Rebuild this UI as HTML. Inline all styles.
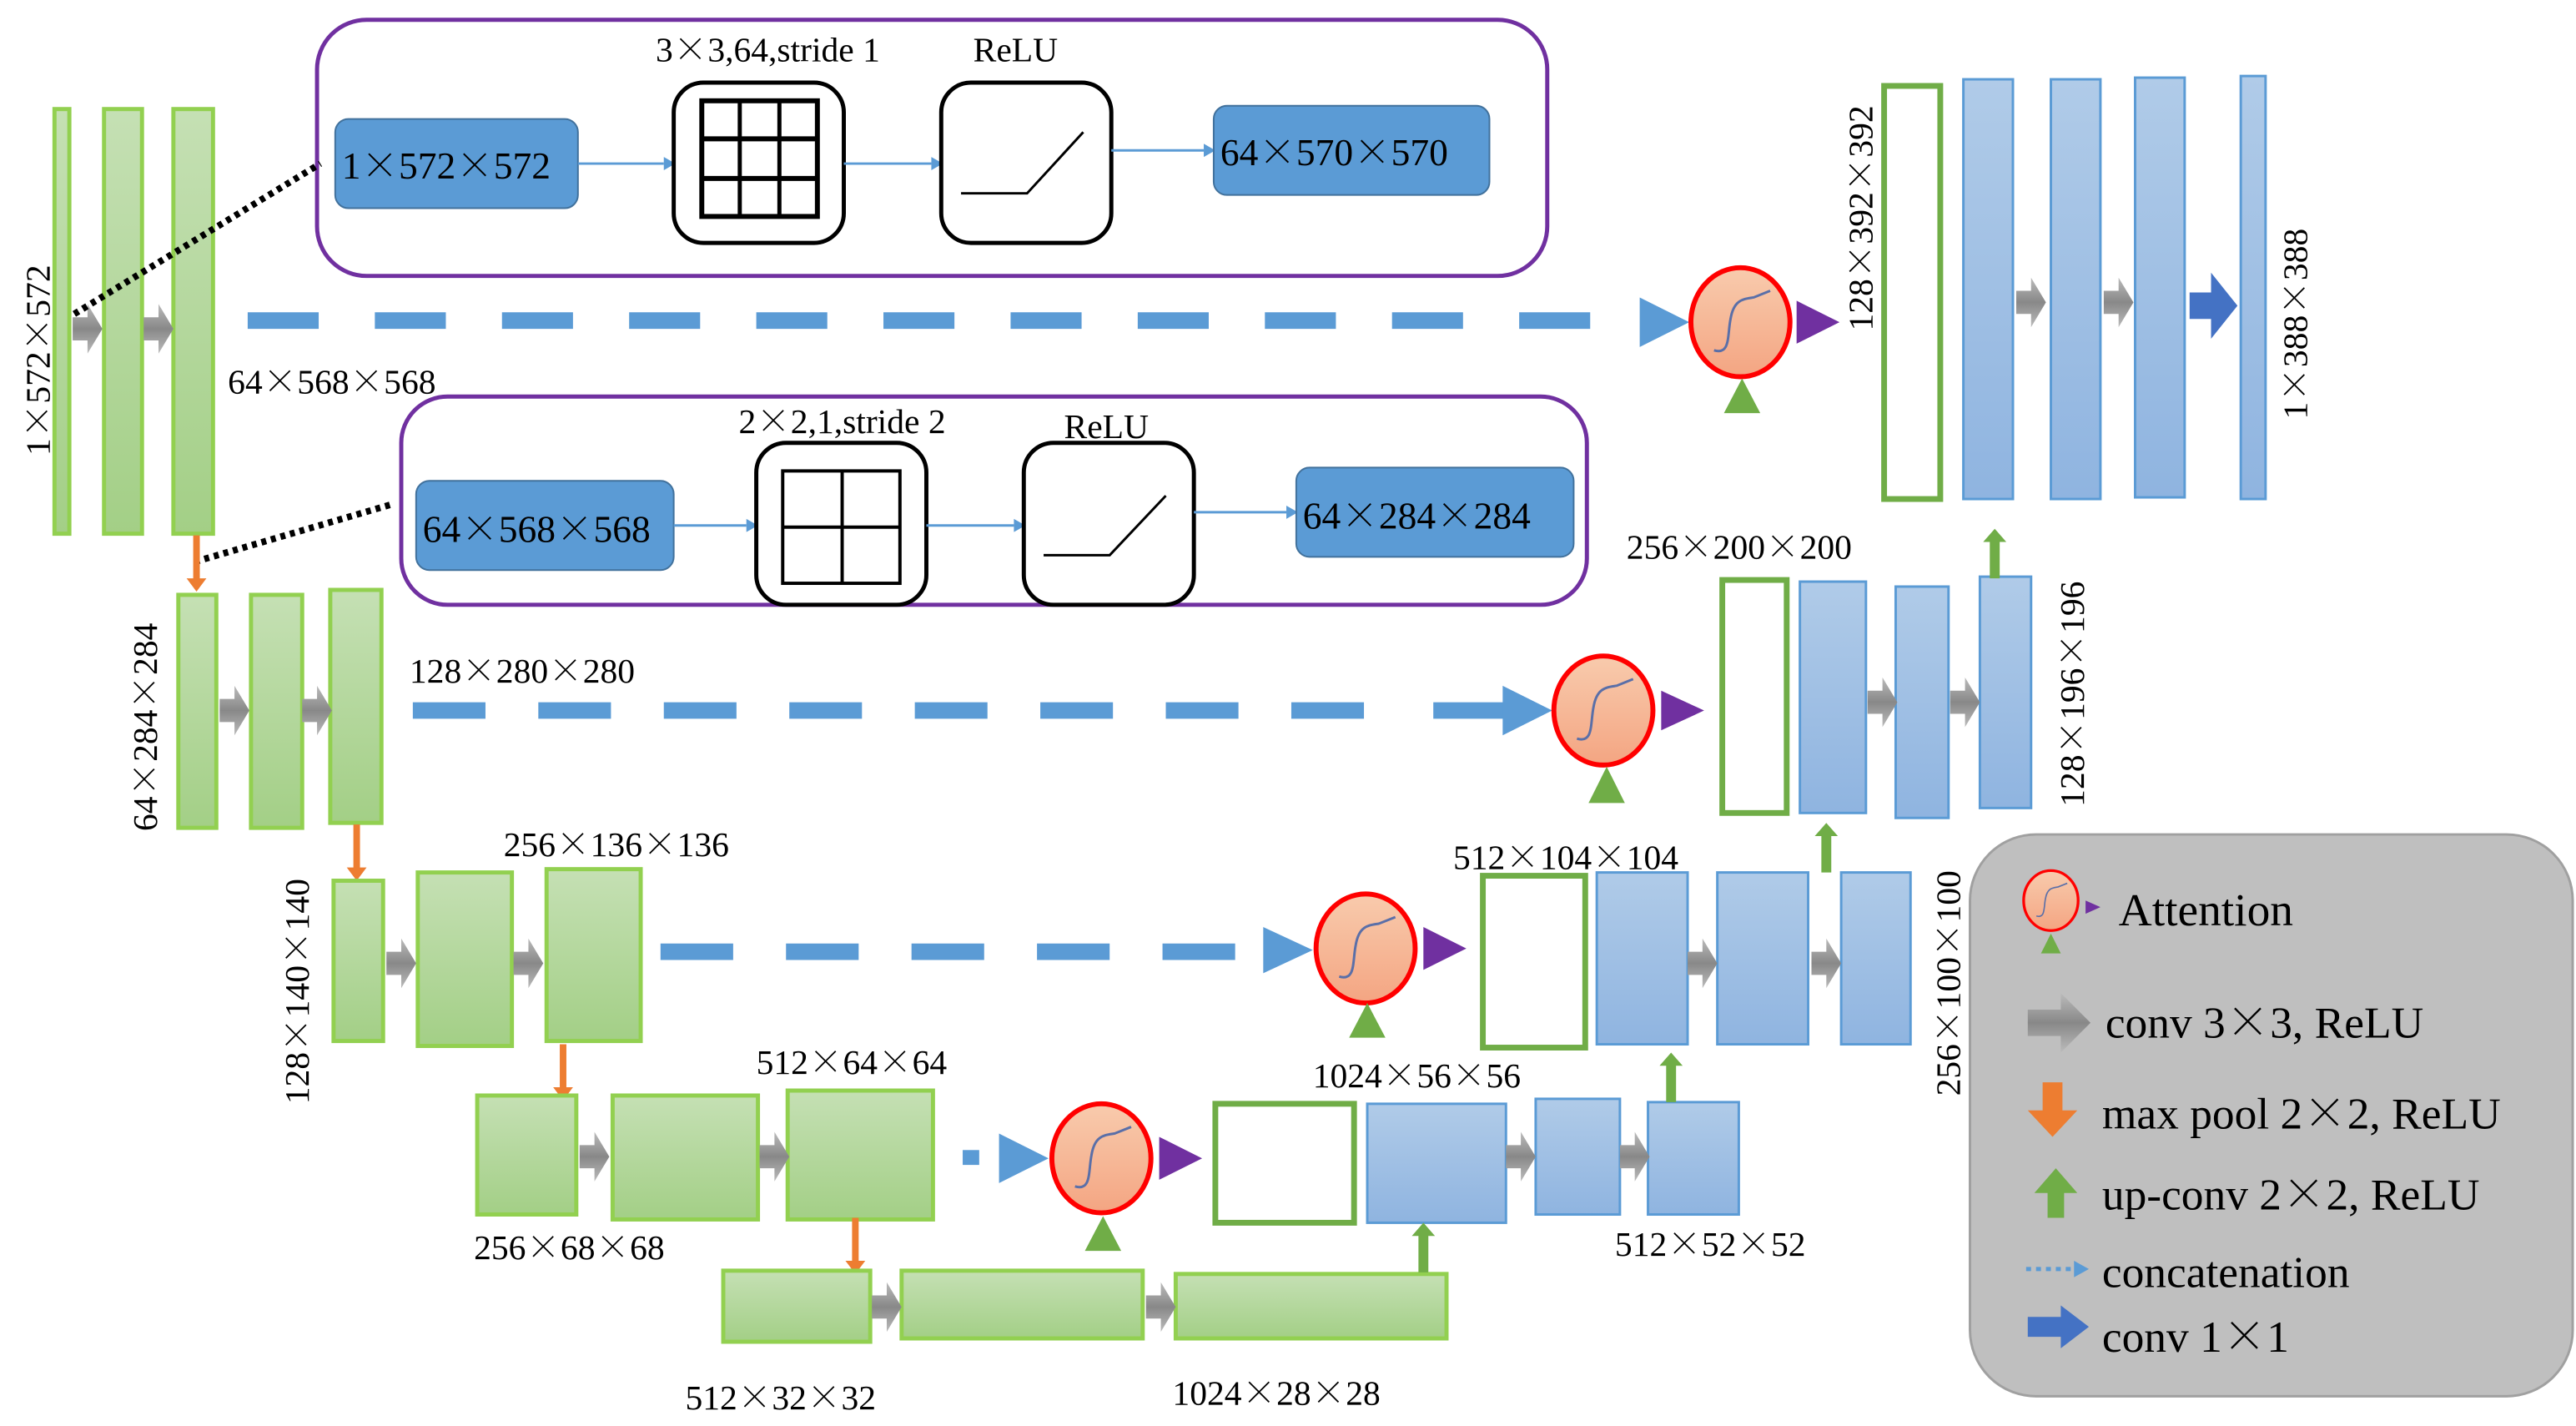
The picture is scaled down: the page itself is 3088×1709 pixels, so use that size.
<!DOCTYPE html>
<html><head><meta charset="utf-8"><style>
html,body{margin:0;padding:0;background:#fff;}
svg{display:block;}
text{font-family:"Liberation Serif",serif;fill:#000;}
.x{font-family:"Noto Serif CJK SC","Noto Sans CJK SC",serif;}
</style></head><body>
<svg width="3088" height="1709" viewBox="0 0 1560 863" preserveAspectRatio="none" xmlns="http://www.w3.org/2000/svg">
<defs>
<linearGradient id="gg" x1="0" y1="0" x2="0" y2="1"><stop offset="0" stop-color="#c5e0b4"/><stop offset="1" stop-color="#a3cf86"/></linearGradient>
<linearGradient id="bg" x1="0" y1="0" x2="0" y2="1"><stop offset="0" stop-color="#b0cbe8"/><stop offset="1" stop-color="#8fb4e0"/></linearGradient>
<linearGradient id="gr" x1="0" y1="0" x2="0" y2="1"><stop offset="0" stop-color="#bbb"/><stop offset="0.5" stop-color="#888"/><stop offset="1" stop-color="#bbb"/></linearGradient>
<linearGradient id="og" x1="0" y1="0" x2="0" y2="1"><stop offset="0" stop-color="#f8cbad"/><stop offset="1" stop-color="#f4a582"/></linearGradient>
<g id="ga"><polygon points="0,-7 9,-7 9,-15 18,0 9,15 9,7 0,7" fill="url(#gr)"/></g>
<g id="att"><ellipse cx="0" cy="0" rx="30" ry="33" fill="url(#og)" stroke="#ff0000" stroke-width="3"/><path d="M-16,17 C-6,20 -8,8 -6,-2 C-4,-14 2,-14 8,-15 L18,-19" fill="none" stroke="#5a6fa8" stroke-width="1.5"/></g>
<g id="up"><polygon points="-3,0 3,0 3,-22 7,-22 0,-30 -7,-22 -3,-22" fill="#70ad47"/></g>
<g id="dn"><polygon points="-2,0 2,0 2,26 6,26 0,34 -6,26 -2,26" fill="#ed7d31"/></g>
</defs>

<!-- top purple box -->
<rect x="192" y="12" width="745" height="155" rx="30" fill="none" stroke="#7030a0" stroke-width="2.5"/>
<rect x="203" y="72" width="147" height="54" rx="8" fill="#5b9bd5" stroke="#41719c"/>
<text x="207" y="108" font-size="23">1<tspan class="x">×</tspan>572<tspan class="x">×</tspan>572</text>
<line x1="350" y1="99" x2="402" y2="99" stroke="#5b9bd5" stroke-width="1.5"/><polygon points="402,95 409,99 402,103" fill="#5b9bd5"/>
<rect x="408" y="50" width="103" height="97" rx="18" fill="#fff" stroke="#000" stroke-width="2.5"/>
<rect x="425" y="61" width="70" height="70" fill="none" stroke="#000" stroke-width="3"/>
<line x1="448" y1="61" x2="448" y2="131" stroke="#000" stroke-width="2.5"/><line x1="472" y1="61" x2="472" y2="131" stroke="#000" stroke-width="2.5"/>
<line x1="425" y1="84" x2="495" y2="84" stroke="#000" stroke-width="3"/><line x1="425" y1="108" x2="495" y2="108" stroke="#000" stroke-width="3"/>
<line x1="511" y1="99" x2="564" y2="99" stroke="#5b9bd5" stroke-width="1.5"/><polygon points="564,95 571,99 564,103" fill="#5b9bd5"/>
<rect x="570" y="50" width="103" height="97" rx="18" fill="#fff" stroke="#000" stroke-width="2.5"/>
<polyline points="582,117 622,117 656,80" fill="none" stroke="#000" stroke-width="1.5"/>
<line x1="673" y1="91" x2="729" y2="91" stroke="#5b9bd5" stroke-width="1.5"/><polygon points="729,87 736,91 729,95" fill="#5b9bd5"/>
<rect x="735" y="64" width="167" height="54" rx="8" fill="#5b9bd5" stroke="#41719c"/>
<text x="739" y="100" font-size="23">64<tspan class="x">×</tspan>570<tspan class="x">×</tspan>570</text>
<text x="465" y="37" font-size="21" text-anchor="middle">3<tspan class="x">×</tspan>3,64,stride 1</text>
<text x="615" y="37" font-size="21" text-anchor="middle">ReLU</text>

<!-- second purple box -->
<rect x="243" y="240" width="718" height="126" rx="28" fill="none" stroke="#7030a0" stroke-width="2.5"/>
<rect x="252" y="291" width="156" height="54" rx="8" fill="#5b9bd5" stroke="#41719c"/>
<text x="256" y="328" font-size="23">64<tspan class="x">×</tspan>568<tspan class="x">×</tspan>568</text>
<line x1="408" y1="318" x2="452" y2="318" stroke="#5b9bd5" stroke-width="1.5"/><polygon points="452,314 459,318 452,322" fill="#5b9bd5"/>
<rect x="458" y="268" width="103" height="98" rx="18" fill="#fff" stroke="#000" stroke-width="2.5"/>
<rect x="474" y="285" width="71" height="68" fill="none" stroke="#000" stroke-width="2"/>
<line x1="510" y1="285" x2="510" y2="353" stroke="#000" stroke-width="2"/><line x1="474" y1="319" x2="545" y2="319" stroke="#000" stroke-width="2"/>
<line x1="561" y1="318" x2="614" y2="318" stroke="#5b9bd5" stroke-width="1.5"/><polygon points="614,314 621,318 614,322" fill="#5b9bd5"/>
<rect x="620" y="268" width="103" height="98" rx="18" fill="#fff" stroke="#000" stroke-width="2.5"/>
<polyline points="632,336 672,336 706,300" fill="none" stroke="#000" stroke-width="1.5"/>
<line x1="723" y1="310" x2="779" y2="310" stroke="#5b9bd5" stroke-width="1.5"/><polygon points="779,306 786,310 779,314" fill="#5b9bd5"/>
<rect x="785" y="283" width="168" height="54" rx="8" fill="#5b9bd5" stroke="#41719c"/>
<text x="789" y="320" font-size="23">64<tspan class="x">×</tspan>284<tspan class="x">×</tspan>284</text>
<text x="510" y="262" font-size="21" text-anchor="middle">2<tspan class="x">×</tspan>2,1,stride 2</text>
<text x="670" y="265" font-size="21" text-anchor="middle">ReLU</text>

<!-- level 1 encoder -->
<rect x="33" y="66" width="9" height="257" fill="url(#gg)" stroke="#92d050" stroke-width="2.5"/>
<rect x="63" y="66" width="23" height="257" fill="url(#gg)" stroke="#92d050" stroke-width="2.5"/>
<rect x="105" y="66" width="24" height="257" fill="url(#gg)" stroke="#92d050" stroke-width="2.5"/>
<use href="#ga" x="44" y="199"/><use href="#ga" x="87" y="199"/>
<line x1="45" y1="190" x2="194" y2="99" stroke="#000" stroke-width="4" stroke-dasharray="3,3"/>
<line x1="118" y1="340" x2="238" y2="305" stroke="#000" stroke-width="4" stroke-dasharray="3,3"/>
<text transform="translate(30,218) rotate(-90)" font-size="21" text-anchor="middle">1<tspan class="x">×</tspan>572<tspan class="x">×</tspan>572</text>
<text x="138" y="238" font-size="21">64<tspan class="x">×</tspan>568<tspan class="x">×</tspan>568</text>
<line x1="150" y1="194" x2="970" y2="194" stroke="#5b9bd5" stroke-width="10" stroke-dasharray="43,34"/>
<polygon points="993,180 1023,195 993,210" fill="#5b9bd5"/>
<use href="#att" x="1054" y="195"/>
<polygon points="1088,182 1114,195 1088,208" fill="#7030a0"/>
<polygon points="1055,229 1066,250 1044,250" fill="#70ad47"/>

<!-- level 1 decoder -->
<rect x="1141" y="52" width="34" height="250" fill="#fff" stroke="#70ad47" stroke-width="3.5"/>
<rect x="1189" y="48" width="30" height="254" fill="url(#bg)" stroke="#5b9bd5" stroke-width="1.5"/>
<rect x="1242" y="48" width="30" height="254" fill="url(#bg)" stroke="#5b9bd5" stroke-width="1.5"/>
<rect x="1293" y="47" width="30" height="254" fill="url(#bg)" stroke="#5b9bd5" stroke-width="1.5"/>
<rect x="1357" y="46" width="15" height="256" fill="url(#bg)" stroke="#5b9bd5" stroke-width="1.5"/>
<use href="#ga" x="1221" y="183"/><use href="#ga" x="1274" y="183"/>
<polygon points="1326,177 1339,177 1339,165 1355,185 1339,205 1339,193 1326,193" fill="#4472c4"/>
<text transform="translate(1134,132) rotate(-90)" font-size="21" text-anchor="middle">128<tspan class="x">×</tspan>392<tspan class="x">×</tspan>392</text>
<text transform="translate(1397,196) rotate(-90)" font-size="21" text-anchor="middle">1<tspan class="x">×</tspan>388<tspan class="x">×</tspan>388</text>

<!-- level 2 -->
<use href="#dn" x="119" y="324"/>
<rect x="108" y="360" width="23" height="141" fill="url(#gg)" stroke="#92d050" stroke-width="2.5"/>
<rect x="152" y="360" width="31" height="141" fill="url(#gg)" stroke="#92d050" stroke-width="2.5"/>
<rect x="200" y="357" width="31" height="141" fill="url(#gg)" stroke="#92d050" stroke-width="2.5"/>
<use href="#ga" x="133" y="430"/><use href="#ga" x="183" y="430"/>
<text transform="translate(95,440) rotate(-90)" font-size="21" text-anchor="middle">64<tspan class="x">×</tspan>284<tspan class="x">×</tspan>284</text>
<text x="248" y="413" font-size="21">128<tspan class="x">×</tspan>280<tspan class="x">×</tspan>280</text>
<line x1="250" y1="430" x2="835" y2="430" stroke="#5b9bd5" stroke-width="10" stroke-dasharray="44,32"/>
<line x1="868" y1="430" x2="912" y2="430" stroke="#5b9bd5" stroke-width="10"/>
<polygon points="910,415 940,430 910,445" fill="#5b9bd5"/>
<use href="#att" x="971" y="430"/>
<polygon points="1006,418 1032,430 1006,442" fill="#7030a0"/>
<polygon points="973,464 984,486 962,486" fill="#70ad47"/>
<rect x="1043" y="351" width="39" height="141" fill="#fff" stroke="#70ad47" stroke-width="3.5"/>
<rect x="1090" y="352" width="40" height="140" fill="url(#bg)" stroke="#5b9bd5" stroke-width="1.5"/>
<rect x="1148" y="355" width="32" height="140" fill="url(#bg)" stroke="#5b9bd5" stroke-width="1.5"/>
<rect x="1199" y="349" width="31" height="140" fill="url(#bg)" stroke="#5b9bd5" stroke-width="1.5"/>
<use href="#ga" x="1131" y="425"/><use href="#ga" x="1181" y="425"/>
<use href="#up" x="1208" y="350"/>
<text x="985" y="338" font-size="21">256<tspan class="x">×</tspan>200<tspan class="x">×</tspan>200</text>
<text transform="translate(1262,420) rotate(-90)" font-size="21" text-anchor="middle">128<tspan class="x">×</tspan>196<tspan class="x">×</tspan>196</text>

<!-- level 3 -->
<use href="#dn" x="216" y="499"/>
<rect x="202" y="533" width="30" height="97" fill="url(#gg)" stroke="#92d050" stroke-width="2.5"/>
<rect x="253" y="528" width="57" height="105" fill="url(#gg)" stroke="#92d050" stroke-width="2.5"/>
<rect x="331" y="526" width="57" height="104" fill="url(#gg)" stroke="#92d050" stroke-width="2.5"/>
<use href="#ga" x="234" y="583"/><use href="#ga" x="311" y="583"/>
<text transform="translate(187,600) rotate(-90)" font-size="21" text-anchor="middle">128<tspan class="x">×</tspan>140<tspan class="x">×</tspan>140</text>
<text x="305" y="518" font-size="21">256<tspan class="x">×</tspan>136<tspan class="x">×</tspan>136</text>
<line x1="400" y1="576" x2="755" y2="576" stroke="#5b9bd5" stroke-width="10" stroke-dasharray="44,32"/>
<polygon points="765,561 795,575 765,589" fill="#5b9bd5"/>
<use href="#att" x="827" y="574"/>
<polygon points="862,561 888,574 862,587" fill="#7030a0"/>
<polygon points="828,607 839,628 817,628" fill="#70ad47"/>
<text x="880" y="526" font-size="21">512<tspan class="x">×</tspan>104<tspan class="x">×</tspan>104</text>
<rect x="898" y="530" width="62" height="104" fill="#fff" stroke="#70ad47" stroke-width="3.5"/>
<rect x="967" y="528" width="55" height="104" fill="url(#bg)" stroke="#5b9bd5" stroke-width="1.5"/>
<rect x="1040" y="528" width="55" height="104" fill="url(#bg)" stroke="#5b9bd5" stroke-width="1.5"/>
<rect x="1115" y="528" width="42" height="104" fill="url(#bg)" stroke="#5b9bd5" stroke-width="1.5"/>
<use href="#ga" x="1022" y="583"/><use href="#ga" x="1097" y="583"/>
<use href="#up" x="1106" y="528"/>
<text transform="translate(1187,595) rotate(-90)" font-size="21" text-anchor="middle">256<tspan class="x">×</tspan>100<tspan class="x">×</tspan>100</text>

<!-- level 4 -->
<use href="#dn" x="341" y="632"/>
<rect x="289" y="663" width="60" height="72" fill="url(#gg)" stroke="#92d050" stroke-width="2.5"/>
<rect x="371" y="663" width="88" height="75" fill="url(#gg)" stroke="#92d050" stroke-width="2.5"/>
<rect x="477" y="660" width="88" height="78" fill="url(#gg)" stroke="#92d050" stroke-width="2.5"/>
<use href="#ga" x="351" y="700"/><use href="#ga" x="460" y="700"/>
<text x="458" y="650" font-size="21">512<tspan class="x">×</tspan>64<tspan class="x">×</tspan>64</text>
<text x="287" y="762" font-size="21">256<tspan class="x">×</tspan>68<tspan class="x">×</tspan>68</text>
<rect x="583" y="696" width="10" height="9" fill="#5b9bd5"/>
<polygon points="605,686 635,701 605,716" fill="#5b9bd5"/>
<use href="#att" x="667" y="701"/>
<polygon points="702,688 728,701 702,714" fill="#7030a0"/>
<polygon points="668,736 679,757 657,757" fill="#70ad47"/>
<text x="795" y="658" font-size="21">1024<tspan class="x">×</tspan>56<tspan class="x">×</tspan>56</text>
<rect x="736" y="668" width="84" height="72" fill="#fff" stroke="#70ad47" stroke-width="3.5"/>
<rect x="828" y="668" width="84" height="72" fill="url(#bg)" stroke="#5b9bd5" stroke-width="1.5"/>
<rect x="930" y="665" width="51" height="70" fill="url(#bg)" stroke="#5b9bd5" stroke-width="1.5"/>
<rect x="998" y="667" width="55" height="68" fill="url(#bg)" stroke="#5b9bd5" stroke-width="1.5"/>
<use href="#ga" x="912" y="700"/><use href="#ga" x="981" y="700"/>
<use href="#up" x="1012" y="667"/>
<text x="978" y="760" font-size="21">512<tspan class="x">×</tspan>52<tspan class="x">×</tspan>52</text>

<!-- level 5 -->
<use href="#dn" x="518" y="737"/>
<rect x="438" y="769" width="89" height="43" fill="url(#gg)" stroke="#92d050" stroke-width="2.5"/>
<rect x="546" y="769" width="146" height="41" fill="url(#gg)" stroke="#92d050" stroke-width="2.5"/>
<rect x="712" y="771" width="164" height="39" fill="url(#gg)" stroke="#92d050" stroke-width="2.5"/>
<use href="#ga" x="528" y="791"/><use href="#ga" x="694" y="791"/>
<use href="#up" x="862" y="770"/>
<text x="415" y="853" font-size="21">512<tspan class="x">×</tspan>32<tspan class="x">×</tspan>32</text>
<text x="710" y="850" font-size="21">1024<tspan class="x">×</tspan>28<tspan class="x">×</tspan>28</text>

<!-- legend -->
<rect x="1193" y="505" width="365" height="340" rx="40" fill="#bfbfbf" stroke="#a0a0a0" stroke-width="1.5"/>
<g transform="translate(1242,545) scale(0.55)"><use href="#att"/></g>
<polygon points="1263,545 1272,549 1263,553" fill="#7030a0"/>
<polygon points="1242,565 1248,577 1236,577" fill="#70ad47"/>
<text x="1283" y="560" font-size="28">Attention</text>
<polygon points="1228,611 1248,611 1248,601 1266,619 1248,637 1248,627 1228,627" fill="url(#gr)"/>
<text x="1275" y="628" font-size="27">conv 3<tspan class="x">×</tspan>3, ReLU</text>
<polygon points="1237,655 1249,655 1249,672 1258,672 1243,688 1228,672 1237,672" fill="#ed7d31"/>
<text x="1273" y="683" font-size="27">max pool 2<tspan class="x">×</tspan>2, ReLU</text>
<polygon points="1240,737 1250,737 1250,722 1258,722 1245,707 1232,722 1240,722" fill="#70ad47"/>
<text x="1273" y="732" font-size="27">up-conv 2<tspan class="x">×</tspan>2, ReLU</text>
<line x1="1227" y1="768" x2="1257" y2="768" stroke="#5b9bd5" stroke-width="2.5" stroke-dasharray="3,3"/>
<polygon points="1256,763 1265,768 1256,773" fill="#5b9bd5"/>
<text x="1273" y="779" font-size="27">concatenation</text>
<polygon points="1228,797 1248,797 1248,790 1265,803 1248,816 1248,809 1228,809" fill="#4472c4"/>
<text x="1273" y="818" font-size="27">conv 1<tspan class="x">×</tspan>1</text>
</svg>
</body></html>
